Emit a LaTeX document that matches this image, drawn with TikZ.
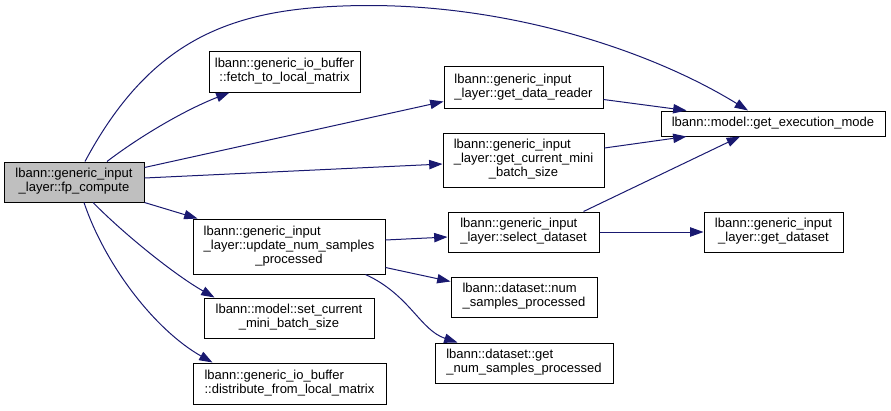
\documentclass[tikz,border=0pt]{standalone}
\usepackage{fontspec}
\setmainfont{Liberation Sans}
\usetikzlibrary{calc, positioning}
\usetikzlibrary{arrows.meta}
\definecolor{edgeblue}{HTML}{191970}
\definecolor{curgray}{HTML}{BFBFBF}
\newcommand{\twolines}[2]{\begin{tabular}{@{}l@{}}#1\\\multicolumn{1}{@{}c@{}}{#2}\end{tabular}}
\newcommand{\threelines}[3]{\begin{tabular}{@{}l@{}}#1\\#2\\\multicolumn{1}{@{}c@{}}{#3}\end{tabular}}

\begin{document}
\begin{tikzpicture}[x=0.75pt, y=-0.75pt,
  fnbox/.style 2 args={draw, line width=0.75pt, inner sep=0pt, minimum width=#1*0.75pt, minimum height=#2*0.75pt, font=\fontsize{9.75pt}{10.5pt}\selectfont},
  call/.style={edgeblue, line width=0.75pt, -{Stealth[length=10pt, width=7pt, inset=0pt]}}]
\useasboundingbox (0,0) rectangle (891,410);
\node[fnbox={140}{40}, fill=curgray] (fp) at (74,182) {\twolines{lbann::generic\_input}{\_layer::fp\_compute}};
\node[fnbox={151}{40}] (fetch) at (284.5,72) {\twolines{lbann::generic\_io\_buffer}{::fetch\_to\_local\_matrix}};
\node[fnbox={159}{41}] (reader) at (523.5,87.5) {\twolines{lbann::generic\_input}{\_layer::get\_data\_reader}};
\node[fnbox={224}{25}] (exec) at (773,123.5) {lbann::model::get\_execution\_mode};
\node[fnbox={161}{54}] (curmini) at (523.5,160) {\threelines{lbann::generic\_input}{\_layer::get\_current\_mini}{\_batch\_size}};
\node[fnbox={192}{55}] (update) at (289,246.5) {\threelines{lbann::generic\_input}{\_layer::update\_num\_samples}{\_processed}};
\node[fnbox={151}{40}] (select) at (523.5,232) {\twolines{lbann::generic\_input}{\_layer::select\_dataset}};
\node[fnbox={139}{40}] (getds) at (773.5,232) {\twolines{lbann::generic\_input}{\_layer::get\_dataset}};
\node[fnbox={146}{40}] (numsp) at (524,297) {\twolines{lbann::dataset::num}{\_samples\_processed}};
\node[fnbox={178}{40}] (getnumsp) at (524,363) {\twolines{lbann::dataset::get}{\_num\_samples\_processed}};
\node[fnbox={170}{40}] (setcur) at (289,318) {\twolines{lbann::model::set\_current}{\_mini\_batch\_size}};
\node[fnbox={193}{41}] (distr) at (289.5,383.5) {\twolines{lbann::generic\_io\_buffer}{::distribute\_from\_local\_matrix}};
% calls from fp_compute
\draw[call] ($(fp.north)+(11,0)$) .. controls (150,40) and (230,10) .. (343,6) .. controls (500,0) and (650,50) .. ($(exec.north)+(-25,0)$);
\draw[call] ($(fp.north)+(33,0)$) .. controls (135,140) and (180,112) .. ($(fetch.south west)+(21,0)$);
\draw[call] ($(fp.north east)+(0,6)$) -- ($(reader.south west)+(0,-7)$);
\draw[call] ($(fp.east)+(0,-4)$) -- ($(curmini.west)+(0,4)$);
\draw[call] (fp.south east) -- ($(update.north west)+(5,0)$);
\draw[call] ($(fp.south)+(19,0)$) .. controls (125,235) and (175,275) .. ($(setcur.north west)+(11,0)$);
\draw[call] ($(fp.south)+(10,0)$) .. controls (105,265) and (155,330) .. ($(distr.north west)+(20,0)$);
% calls from update_num_samples_processed
\draw[call] ($(update.east)+(0,-6.5)$) -- ($(select.west)+(0,5)$);
\draw[call] ($(update.south east)+(0,-7)$) -- ($(numsp.north west)+(0,5)$);
\draw[call] ($(update.south east)+(-20,0)$) .. controls (410,295) and (420,330) .. ($(getnumsp.north west)+(23,0)$);
% the rest
\draw[call] ($(reader.south east)+(0,-9)$) -- ($(exec.north west)+(26,0)$);
\draw[call] ($(curmini.east)+(0,-12)$) -- ($(exec.south west)+(26,0)$);
\draw[call] ($(select.north east)+(-16,0)$) -- ($(exec.south)+(-33,0)$);
\draw[call] (select.east) -- (getds.west);
\end{tikzpicture}
\end{document}
